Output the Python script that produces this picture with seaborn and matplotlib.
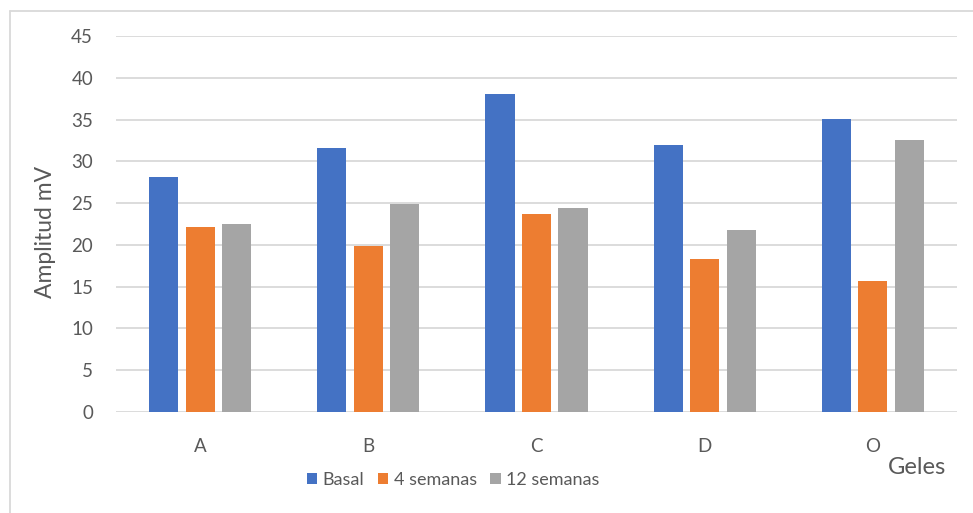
import matplotlib
matplotlib.use("Agg")
import matplotlib.pyplot as plt
from matplotlib.lines import Line2D
import seaborn as sns
import pandas as pd

# Data
geles = ["A", "B", "C", "D", "O"]
series = ["Basal", "4 semanas", "12 semanas"]
basal = [28.1, 31.6, 38.0, 31.9, 35.1]
semanas_4 = [22.1, 19.9, 23.7, 18.3, 15.7]
semanas_12 = [22.5, 24.9, 24.4, 21.8, 32.5]
y_ticks = [0, 5, 10, 15, 20, 25, 30, 35, 40, 45]

colors = ["#4472C4", "#ED7D31", "#A5A5A5"]
text_color = "#595959"
grid_color = "#D9D9D9"

df = pd.DataFrame({
    "Gel": geles * 3,
    "Tiempo": [series[0]] * 5 + [series[1]] * 5 + [series[2]] * 5,
    "Amplitud": basal + semanas_4 + semanas_12,
})

sns.set_theme(style="white")
plt.rcParams["font.family"] = ["Lato", "DejaVu Sans"]

W, H = 973, 513
fig = plt.figure(figsize=(W / 100, H / 100), dpi=100)
ax = fig.add_axes([116 / W, (H - 412) / H, 841 / W, 376 / H])

sns.barplot(data=df, x="Gel", y="Amplitud", hue="Tiempo", order=geles,
            hue_order=series, palette=colors, width=0.65, gap=0.2,
            saturation=1, edgecolor="none", ax=ax)

ax.set_ylim(0, 45)
ax.set_yticks(y_ticks)
ax.set_xlim(-0.5, len(geles) - 0.5)
for t in y_ticks:
    ax.axhline(t, color=grid_color, lw=1.3, zorder=0)
ax.set_axisbelow(True)
for s in ax.spines.values():
    s.set_visible(False)
ax.tick_params(axis="y", length=0, pad=16.5, labelsize=13.5, labelcolor=text_color)
ax.tick_params(axis="x", length=0, pad=19, labelsize=13.5, labelcolor=text_color)
ax.set_xlabel("")
ax.set_ylabel("")

fig.text(45 / W, 1 - 232 / H, "Amplitud mV", rotation=90, ha="center",
         va="center", fontsize=16.5, color=text_color)
fig.text(917 / W, 1 - 467 / H, "Geles", ha="center", va="center",
         fontsize=17, color=text_color)

handles, labels = ax.get_legend_handles_labels()
if ax.get_legend() is not None:
    ax.get_legend().remove()
fig.legend(handles, labels, loc="center", bbox_to_anchor=(453 / W, 1 - 480 / H),
           ncol=3, frameon=False, fontsize=13, labelcolor=text_color,
           handlelength=0.58, handleheight=0.58, handletextpad=0.3,
           columnspacing=0.75, borderpad=0)

# Chart area border (top and left edges)
fig.add_artist(Line2D([10 / W, 1], [1 - 11 / H, 1 - 11 / H], color=grid_color,
                      lw=1.3, transform=fig.transFigure))
fig.add_artist(Line2D([10 / W, 10 / W], [0, 1 - 11 / H], color=grid_color,
                      lw=1.3, transform=fig.transFigure))

fig.savefig("out.png", dpi=100, facecolor="white")
